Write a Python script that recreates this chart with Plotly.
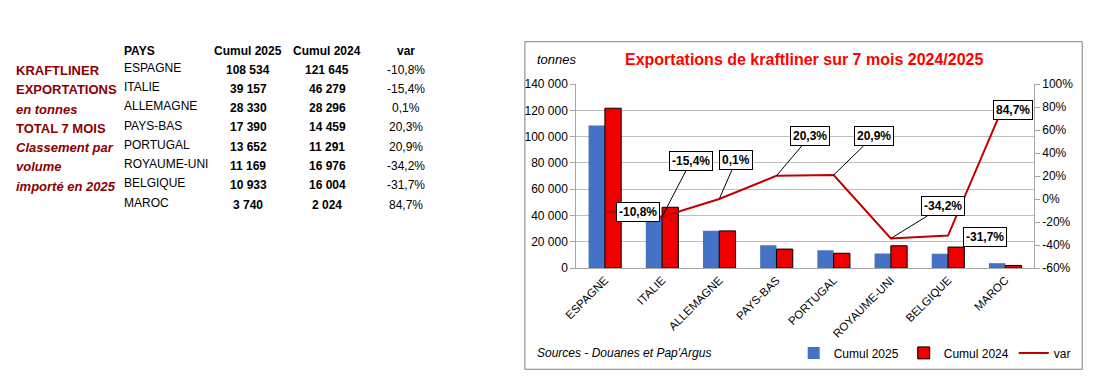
import plotly.graph_objects as go

# ---- data ----
pays = ["ESPAGNE", "ITALIE", "ALLEMAGNE", "PAYS-BAS", "PORTUGAL", "ROYAUME-UNI", "BELGIQUE", "MAROC"]
cumul_2025 = [108534, 39157, 28330, 17390, 13652, 11169, 10933, 3740]
cumul_2024 = [121645, 46279, 28296, 14459, 11291, 16976, 16004, 2024]
var_pct = [-10.8, -15.4, 0.1, 20.3, 20.9, -34.2, -31.7, 84.7]
var_labels = ["-10,8%", "-15,4%", "0,1%", "20,3%", "20,9%", "-34,2%", "-31,7%", "84,7%"]
y2_tickvals = [100, 80, 60, 40, 20, 0, -20, -40, -60]
y2_ticktext = ["100%", "80%", "60%", "40%", "20%", "0%", "-20%", "-40%", "-60%"]
table_2025 = ["108 534", "39 157", "28 330", "17 390", "13 652", "11 169", "10 933", "3 740"]
table_2024 = ["121 645", "46 279", "28 296", "14 459", "11 291", "16 976", "16 004", "2 024"]
side_labels = [("KRAFTLINER", False), ("EXPORTATIONS", False), ("en tonnes", True),
               ("TOTAL 7 MOIS", False), ("Classement par", True), ("volume", True),
               ("importé en 2025", True)]

W, H = 1103, 383
FONT = "Arial, Liberation Sans, sans-serif"


def px(x):
    return x / W


def py(y):
    return 1 - y / H


fig = go.Figure()
fig.add_trace(go.Bar(x=pays, y=cumul_2025, name="Cumul 2025",
                     marker=dict(color="#4472C4", line=dict(width=0))))
fig.add_trace(go.Bar(x=pays, y=cumul_2024, name="Cumul 2024",
                     marker=dict(color="#EE0000", line=dict(color="black", width=1))))
fig.add_trace(go.Scatter(x=pays, y=var_pct, name="var", yaxis="y2", mode="lines",
                         line=dict(color="#C00000", width=2)))

annotations = []
# label placement relative to each var point: (dx, dy, leader line?)
offsets = [(33, 0, False), (29, -56, True), (17, -39, True), (34, -40, True),
           (40, -39, True), (52, -32, True), (37, 1, False), (8, 8, False)]
for i, (ax, ay, arrow) in enumerate(offsets):
    a = dict(x=pays[i], y=var_pct[i], xref="x", yref="y2", text="<b>%s</b>" % var_labels[i],
             font=dict(family=FONT, size=12, color="black"), bgcolor="white",
             bordercolor="black", borderwidth=1, borderpad=2)
    if arrow:
        a.update(showarrow=True, ax=ax, ay=ay, arrowhead=0, arrowwidth=1, arrowcolor="black")
    else:
        a.update(showarrow=False, xshift=ax, yshift=-ay)
    annotations.append(a)


def txt(x, y, t, anchor="left", size=12, color="black"):
    annotations.append(dict(x=px(x), y=py(y), xref="paper", yref="paper", showarrow=False,
                            xanchor=anchor, yanchor="middle", text=t,
                            font=dict(family=FONT, size=size, color=color)))


txt(800, 55, "<b>Exportations de kraftliner sur 7 mois 2024/2025</b>", "center", 16, "#FF0000")
txt(528, 55, "<i>tonnes</i>", "left", 13)
txt(528, 359, "<i>Sources - Douanes et Pap'Argus</i>", "left", 12)

# left-hand table
txt(110, 46, "<b>PAYS</b>")
txt(238, 46, "<b>Cumul 2025</b>", "center")
txt(318, 46, "<b>Cumul 2024</b>", "center")
txt(398, 46, "<b>var</b>", "center")
for i in range(len(pays)):
    y = 64 + 20 * i
    txt(110, y - 1, pays[i])
    txt(238, y + 1, "<b>%s</b>" % table_2025[i], "center")
    txt(318, y + 1, "<b>%s</b>" % table_2024[i], "center")
    txt(398, y + 1, var_labels[i], "center")
for i, (t, it) in enumerate(side_labels):
    s = "<b><i>%s</i></b>" % t if it else "<b>%s</b>" % t
    txt(1, 66 + 20 * i, s, size=13, color="#8B0000")

fig.update_layout(
    width=W, height=H, autosize=False,
    margin=dict(l=0, r=0, t=0, b=0, pad=0),
    paper_bgcolor="white", plot_bgcolor="white",
    separators=", ",
    barmode="group", bargap=0.43, bargroupgap=0,
    font=dict(family=FONT, size=12, color="black"),
    xaxis=dict(domain=[px(570), px(1033)], tickangle=-45, showgrid=False,
               showline=True, linecolor="#A6A6A6", linewidth=1, ticks="",
               tickfont=dict(size=11.5)),
    yaxis=dict(domain=[py(271), py(80)], range=[0, 140000], dtick=20000, tickformat=",d",
               showgrid=True, gridcolor="#BFBFBF", gridwidth=1, showline=True,
               linecolor="#A6A6A6", ticks="outside", ticklen=5, tickcolor="#A6A6A6",
               zeroline=False),
    yaxis2=dict(overlaying="y", side="right", range=[-60, 100], tickvals=y2_tickvals,
                ticktext=y2_ticktext, showgrid=False, showline=True, linecolor="#A6A6A6",
                ticks="outside", ticklen=5, tickcolor="#A6A6A6", zeroline=False),
    legend=dict(orientation="h", x=px(790), y=py(359), xanchor="left", yanchor="middle",
                font=dict(size=12), itemwidth=30, bgcolor="rgba(0,0,0,0)"),
    annotations=annotations,
    shapes=[dict(type="rect", xref="paper", yref="paper", x0=px(518), x1=px(1082),
                 y0=py(376), y1=py(36), line=dict(color="#808080", width=1))],
)

POST = ("document.documentElement.style.margin='0';document.documentElement.style.padding='0';"
        "document.body.style.margin='0';document.body.style.padding='0';"
        "document.body.style.overflow='hidden';document.documentElement.style.overflow='hidden';"
        "var d=document.getElementById('{plot_id}');d.style.position='absolute';"
        "d.style.left='0px';d.style.top='0px';")

fig.write_html("out.html", config={"responsive": False, "displayModeBar": False},
               post_script=POST)
